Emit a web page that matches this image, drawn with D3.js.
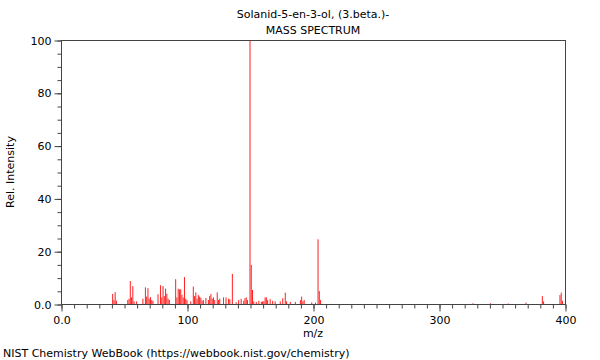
<!DOCTYPE html>
<html>
<head>
<meta charset="utf-8">
<script src="https://cdn.jsdelivr.net/npm/d3@7"></script>
<style>
  body { margin: 0; background: #fff; }
  svg { font-family: "DejaVu Sans", sans-serif; }
</style>
</head>
<body>
<script>
// peaks
var mz = [41,42,43,44,53,54,55,56,57,58,60,65,67,68,69,70,71,72,73,77,79,80,81,82,83,84,85,86,
  91,92,93,94,95,96,97,98,99,100,103,105,106,107,108,109,110,111,112,113,115,117,118,119,120,
  121,122,124,125,126,129,131,133,134,136,139,141,143,145,146,147,148,150,151,152,153,155,157,
  159,160,161,162,163,164,166,168,170,174,176,178,179,182,186,190,191,192,193,199,202,204,205,
  206,327,341,355,369,382,383,396,397,398];
var intensity = [3.8,1.5,4.5,1.2,1.5,2,8.7,2.5,6.8,1,1,2,6.3,2.8,6,2,2.6,1.5,1.2,3.7,7.1,2.5,6.8,3,5.8,3.9,2,1.5,
  9.4,2.5,5.8,5.5,5.6,3.5,2.5,10.2,2,1.5,1,6.6,3,4.4,2,3.4,2.8,2.4,1.2,1.5,2.3,1.5,3,3.8,2,
  2.5,1.5,4.4,1.5,2,2.5,2.5,2,1.8,11.4,0.7,1.5,2,1.2,2.2,2.5,1.5,100,14.8,5.3,1,0.8,1.2,
  0.8,1,1,2.5,2.5,1.5,1.8,1.2,1,1,2.2,4.3,1,0.8,0.8,1.5,2.8,1,1.5,0.6,0.5,24.5,4.9,
  1.5,0.3,0.3,0.2,0.5,3,1,3.4,4.3,1.2];
var xTicks = [0, 100, 200, 300, 400];
var yTicks = [0, 20, 40, 60, 80, 100];
var title = "Solanid-5-en-3-ol, (3.beta.)-";
var subtitle = "MASS SPECTRUM";

var W = 600, H = 360;
var margin = {top: 40, right: 35, bottom: 56, left: 61},
    width = W - margin.left - margin.right,
    height = H - margin.top - margin.bottom;

var svg = d3.select("body").append("svg")
    .attr("width", W)
    .attr("height", H);

var g = svg.append("g")
    .attr("transform", "translate(" + margin.left + "," + margin.top + ")");

var x = d3.scaleLinear().domain([0, 400]).range([0, width]);
var y = d3.scaleLinear().domain([0, 100]).range([height, 0]);

var peaks = mz.map(function (m, i) { return {mz: m, y: intensity[i]}; });

g.selectAll("line.peak")
    .data(peaks)
  .enter().append("line")
    .attr("class", "peak")
    .attr("x1", function (d) { return x(d.mz); })
    .attr("x2", function (d) { return x(d.mz); })
    .attr("y1", y(0))
    .attr("y2", function (d) { return y(d.y); })
    .attr("stroke", "#ff2020")
    .attr("stroke-width", 1);

// frame
g.append("rect")
    .attr("x", 0.5).attr("y", 0.5)
    .attr("width", width).attr("height", height)
    .attr("fill", "none")
    .attr("stroke", "#444");

// minor ticks
var xAxisMinor = d3.axisBottom(x).tickValues(d3.range(0, 401, 10)).tickSize(4).tickFormat("");
var yAxisMinor = d3.axisLeft(y).tickValues(d3.range(0, 101, 5)).tickSize(4).tickFormat("");

g.append("g")
    .attr("class", "axis")
    .attr("transform", "translate(0.5," + (height + 0.5) + ")")
    .call(xAxisMinor);
g.append("g")
    .attr("class", "axis")
    .attr("transform", "translate(0.5,0.5)")
    .call(yAxisMinor);

// major ticks with labels
g.append("g")
    .attr("class", "axis")
    .attr("transform", "translate(0.5," + (height + 0.5) + ")")
    .call(d3.axisBottom(x).tickValues(xTicks).tickSize(7).tickPadding(5)
      .tickFormat(function (d) { return d === 0 ? "0.0" : d; }));
g.append("g")
    .attr("class", "axis")
    .attr("transform", "translate(0.5,0.5)")
    .call(d3.axisLeft(y).tickValues(yTicks).tickSize(7).tickPadding(3)
      .tickFormat(function (d) { return d === 0 ? "0.0" : d; }));

svg.selectAll(".axis path").remove();
svg.selectAll(".axis line").attr("stroke", "#444");
svg.selectAll(".axis text")
    .attr("fill", "#000")
    .style("font-size", "11px")
    .style("font-family", "DejaVu Sans");

// texts
svg.append("text")
    .attr("x", margin.left + width / 2).attr("y", 18)
    .attr("text-anchor", "middle")
    .style("font-size", "11px")
    .text(title);
svg.append("text")
    .attr("x", margin.left + width / 2).attr("y", 34)
    .attr("text-anchor", "middle")
    .style("font-size", "11px")
    .text(subtitle);

svg.append("text")
    .attr("x", margin.left + width / 2).attr("y", 337)
    .attr("text-anchor", "middle")
    .style("font-size", "11px")
    .text("m/z");

svg.append("text")
    .attr("transform", "translate(14," + (margin.top + height / 2) + ") rotate(-90)")
    .attr("text-anchor", "middle")
    .style("font-size", "11px")
    .text("Rel. Intensity");

svg.append("text")
    .attr("x", 3).attr("y", 357)
    .style("font-size", "11px")
    .text("NIST Chemistry WebBook (https://webbook.nist.gov/chemistry)");
</script>
</body>
</html>
